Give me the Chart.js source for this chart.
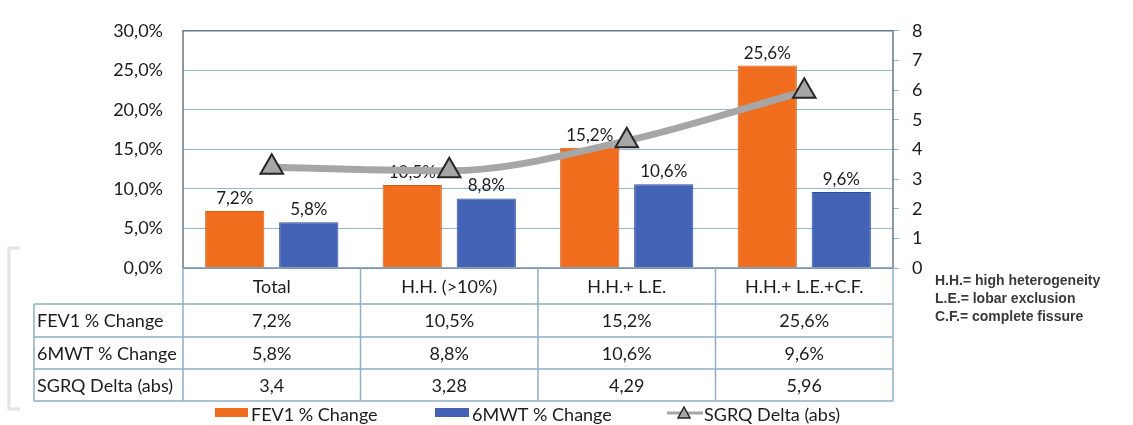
<!DOCTYPE html>
<html>
<head>
<meta charset="utf-8">
<script src="https://cdn.jsdelivr.net/npm/chart.js@4.4.0/dist/chart.umd.min.js"></script>
<style>
  html, body { margin: 0; padding: 0; background: #fff; }
  #wrap { position: relative; width: 1133px; height: 425px; }
</style>
</head>
<body>
<div id="wrap"><canvas id="chart"></canvas></div>
<script>
// ---------- data ----------
const categories = ['Total', 'H.H. (>10%)', 'H.H.+ L.E.', 'H.H.+ L.E.+C.F.'];
const fev1Change = [7.2, 10.5, 15.2, 25.6];
const mwtChange = [5.8, 8.8, 10.6, 9.6];
const sgrqDelta = [3.4, 3.28, 4.29, 5.96];
const seriesLabels = ['FEV1 % Change', '6MWT % Change', 'SGRQ Delta (abs)'];
const leftTicks = [0, 5, 10, 15, 20, 25, 30];
const rightTicks = [0, 1, 2, 3, 4, 5, 6, 7, 8];
const notes = ['H.H.= high heterogeneity', 'L.E.= lobar exclusion', 'C.F.= complete fissure'];

const FONT = 'Lato, "Open Sans", sans-serif';
const TEXT = '#1c1c1c';
const ORANGE = '#ef6d1c';
const BLUE = '#4463b7';
const GRAY = '#a6a6a6';
const GRID = '#8fbad6';
const TABLE_LINE = '#8fb0c6';

const pct = v => v.toFixed(1).replace('.', ',') + '%';
const dec = v => String(v).replace('.', ',');

// ---------- value labels above bars ----------
const barLabels = {
  id: 'barLabels',
  afterDatasetDraw(chart, args) {
    const ds = chart.data.datasets[args.index];
    if (ds.type === 'line') return;
    const ctx = chart.ctx;
    ctx.save();
    ctx.font = '17px ' + FONT;
    ctx.fillStyle = TEXT;
    ctx.textAlign = 'center';
    ctx.textBaseline = 'bottom';
    args.meta.data.forEach((bar, i) => {
      ctx.fillText(pct(ds.data[i]), bar.x, bar.y - 4);
    });
    ctx.restore();
  }
};

// ---------- frame, data table, legend, notes ----------
const extras = {
  id: 'extras',
  afterDraw(chart) {
    const ctx = chart.ctx;
    const area = chart.chartArea;
    const xs = chart.scales.x;
    const n = categories.length;
    const colW = (area.right - area.left) / n;
    const rows = [area.bottom, 304, 337, 369, 401];
    const labelLeft = 34;

    ctx.save();
    // plot frame
    ctx.strokeStyle = '#66788a';
    ctx.lineWidth = 1.5;
    ctx.beginPath();
    ctx.moveTo(area.left, area.bottom);
    ctx.lineTo(area.left, area.top);
    ctx.lineTo(area.right, area.top);
    ctx.lineTo(area.right, area.bottom);
    ctx.stroke();
    ctx.strokeStyle = '#6f8ca6';
    ctx.beginPath();
    ctx.moveTo(area.left, area.bottom);
    ctx.lineTo(area.right, area.bottom);
    ctx.stroke();

    // table grid
    ctx.strokeStyle = TABLE_LINE;
    ctx.lineWidth = 1.5;
    ctx.beginPath();
    for (let i = 0; i <= n; i++) {
      const x = area.left + i * colW;
      ctx.moveTo(x, rows[0]);
      ctx.lineTo(x, rows[4]);
    }
    ctx.moveTo(labelLeft, rows[1]);
    ctx.lineTo(labelLeft, rows[4]);
    for (let r = 1; r <= 4; r++) {
      ctx.moveTo(labelLeft, rows[r]);
      ctx.lineTo(area.right, rows[r]);
    }
    ctx.stroke();

    // table text
    const tableRows = [
      [seriesLabels[0], fev1Change.map(pct)],
      [seriesLabels[1], mwtChange.map(pct)],
      [seriesLabels[2], sgrqDelta.map(dec)]
    ];
    ctx.font = '18px ' + FONT;
    ctx.fillStyle = TEXT;
    ctx.textBaseline = 'middle';
    tableRows.forEach((row, r) => {
      const y = (rows[r + 1] + rows[r + 2]) / 2 + 1;
      ctx.textAlign = 'left';
      ctx.fillText(row[0], labelLeft + 3, y);
      ctx.textAlign = 'center';
      row[1].forEach((txt, i) => {
        ctx.fillText(txt, xs.getPixelForValue(i), y);
      });
    });

    // faint bracket on the left
    ctx.strokeStyle = '#e4e4e4';
    ctx.lineWidth = 3;
    ctx.beginPath();
    ctx.moveTo(20, 248);
    ctx.lineTo(9, 248);
    ctx.lineTo(9, 409);
    ctx.lineTo(20, 409);
    ctx.stroke();

    // legend
    const ly = 413;
    ctx.font = '18px ' + FONT;
    ctx.textAlign = 'left';
    ctx.textBaseline = 'middle';
    ctx.fillStyle = ORANGE;
    ctx.fillRect(215, ly - 5, 33, 9);
    ctx.fillStyle = TEXT;
    ctx.fillText(seriesLabels[0], 251, ly + 2);
    ctx.fillStyle = BLUE;
    ctx.fillRect(435, ly - 5, 34, 9);
    ctx.fillStyle = TEXT;
    ctx.fillText(seriesLabels[1], 472, ly + 2);
    ctx.strokeStyle = GRAY;
    ctx.lineWidth = 3;
    ctx.beginPath();
    ctx.moveTo(667, ly);
    ctx.lineTo(703, ly);
    ctx.stroke();
    ctx.fillStyle = GRAY;
    ctx.strokeStyle = '#262626';
    ctx.lineWidth = 1.5;
    ctx.beginPath();
    ctx.moveTo(684, ly - 6);
    ctx.lineTo(690, ly + 5);
    ctx.lineTo(678, ly + 5);
    ctx.closePath();
    ctx.fill();
    ctx.stroke();
    ctx.fillStyle = TEXT;
    ctx.fillText(seriesLabels[2], 704, ly + 2);

    // notes
    ctx.font = 'bold 14px "Liberation Sans", Arial, sans-serif';
    ctx.fillStyle = '#3a3a3a';
    notes.forEach((t, i) => ctx.fillText(t, 935, 281 + i * 18));
    ctx.restore();
  }
};

new Chart(document.getElementById('chart'), {
  data: {
    labels: categories,
    datasets: [
      {
        type: 'line',
        label: seriesLabels[2],
        data: sgrqDelta,
        yAxisID: 'y1',
        order: 0,
        borderColor: GRAY,
        borderWidth: 7,
        cubicInterpolationMode: 'monotone',
        pointStyle: 'triangle',
        pointRadius: 13,
        pointBackgroundColor: GRAY,
        pointBorderColor: '#262626',
        pointBorderWidth: 2
      },
      {
        type: 'bar',
        label: seriesLabels[0],
        data: fev1Change,
        yAxisID: 'y',
        order: 1,
        backgroundColor: ORANGE,
        borderColor: '#d65e14',
        borderWidth: 1,
        categoryPercentage: 0.834,
        barPercentage: 0.8
      },
      {
        type: 'bar',
        label: seriesLabels[1],
        data: mwtChange,
        yAxisID: 'y',
        order: 1,
        backgroundColor: BLUE,
        borderColor: '#2f4d9e',
        borderWidth: 1,
        categoryPercentage: 0.834,
        barPercentage: 0.8
      }
    ]
  },
  options: {
    responsive: true,
    maintainAspectRatio: false,
    animation: false,
    layout: { padding: { top: 25, left: 0, right: 0, bottom: 0 } },
    plugins: {
      legend: { display: false },
      tooltip: { enabled: false }
    },
    scales: {
      x: {
        grid: { display: false, drawTicks: false },
        border: { display: false },
        ticks: { color: TEXT, font: { family: FONT, size: 18 }, padding: 8, maxRotation: 0 },
        afterFit: s => { s.height = 157; }
      },
      y: {
        position: 'left',
        min: 0,
        max: 30,
        afterBuildTicks: s => { s.ticks = leftTicks.map(v => ({ value: v })); },
        ticks: { color: TEXT, font: { family: FONT, size: 18 }, padding: 20, callback: v => pct(v) },
        grid: { color: GRID, lineWidth: 1, drawTicks: false },
        border: { display: false },
        afterFit: s => { s.width = 183; }
      },
      y1: {
        position: 'right',
        min: 0,
        max: 8,
        afterBuildTicks: s => { s.ticks = rightTicks.map(v => ({ value: v })); },
        ticks: { color: TEXT, font: { family: FONT, size: 18 }, padding: 13, callback: v => String(v) },
        grid: { drawOnChartArea: false, color: GRID, tickLength: 6 },
        border: { display: false },
        afterFit: s => { s.width = 240; }
      }
    }
  },
  plugins: [barLabels, extras]
});
</script>
</body>
</html>
